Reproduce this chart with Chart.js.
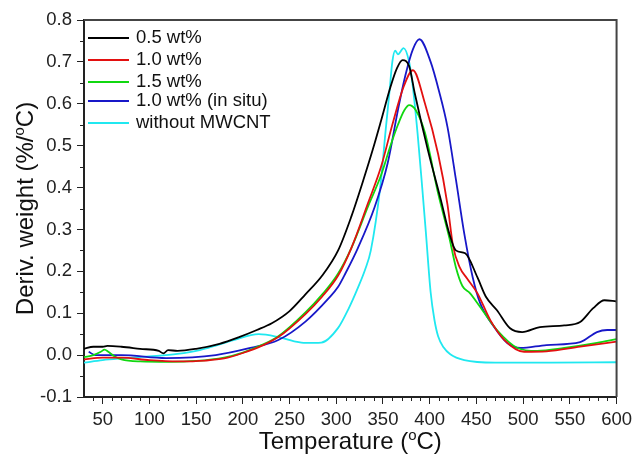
<!DOCTYPE html>
<html>
<head>
<meta charset="utf-8">
<script src="https://cdn.jsdelivr.net/npm/chart.js@4"></script>
<style>
  html, body { margin: 0; padding: 0; background: #fff; }
  #wrap { width: 637px; height: 455px; position: relative; }
</style>
</head>
<body>
<div id="wrap"><canvas id="chart"></canvas></div>
<script>
/* DTG curves: derivative weight vs temperature */

const labels = ['0.5 wt%', '1.0 wt%', '1.5 wt%', '1.0 wt% (in situ)', 'without MWCNT'];
const colors = ['#000000', '#e31010', '#10d810', '#1818c8', '#20e8f0'];

const blackT = [30, 40, 50, 55, 70, 90, 110, 115, 120, 130, 150, 175, 196, 215, 231, 250, 267, 285, 302, 316, 329, 339, 348, 358, 365, 371, 378, 384, 398, 412, 421, 428, 438, 451, 460, 472, 486, 499, 518, 544, 561, 575, 587, 600];
const blackY = [0.015, 0.02, 0.02, 0.022, 0.02, 0.015, 0.01, 0.004, 0.012, 0.01, 0.015, 0.027, 0.043, 0.06, 0.076, 0.105, 0.145, 0.19, 0.25, 0.33, 0.418, 0.49, 0.56, 0.64, 0.685, 0.704, 0.69, 0.625, 0.49, 0.37, 0.29, 0.25, 0.243, 0.186, 0.14, 0.107, 0.064, 0.055, 0.067, 0.071, 0.079, 0.112, 0.131, 0.128];

const redT = [30, 50, 70, 100, 130, 160, 180, 200, 220, 238, 267, 285, 302, 316, 334, 348, 360, 372, 382, 395, 409, 419, 425, 432, 440, 451, 465, 480, 501, 525, 561, 600];
const redY = [-0.01, -0.006, -0.006, -0.012, -0.015, -0.013, -0.008, 0.005, 0.022, 0.043, 0.098, 0.14, 0.19, 0.255, 0.363, 0.45, 0.55, 0.64, 0.68, 0.6, 0.48, 0.36, 0.26, 0.21, 0.183, 0.148, 0.083, 0.036, 0.008, 0.009, 0.02, 0.032];

const greenT = [30, 40, 48, 52, 56, 62, 70, 90, 120, 150, 180, 200, 220, 238, 267, 285, 302, 316, 334, 348, 358, 366, 373, 378, 385, 395, 409, 421, 428, 435, 443, 454, 472, 494, 515, 544, 579, 600];
const greenY = [-0.005, 0.0, 0.008, 0.013, 0.008, -0.002, -0.01, -0.015, -0.016, -0.014, -0.006, 0.006, 0.024, 0.045, 0.102, 0.145, 0.195, 0.255, 0.355, 0.43, 0.5, 0.55, 0.585, 0.597, 0.585, 0.53, 0.386, 0.28, 0.21, 0.165, 0.148, 0.115, 0.06, 0.017, 0.01, 0.017, 0.029, 0.038];

const blueT = [35, 42, 50, 70, 118, 171, 208, 238, 267, 292, 302, 310, 323, 341, 355, 366, 374, 382, 389, 401, 410, 419, 428, 437, 446, 454, 469, 483, 497, 525, 561, 579, 590, 600];
const blueY = [0.008, 0.0, 0.0, 0.0, -0.007, 0.0, 0.017, 0.036, 0.08, 0.136, 0.163, 0.196, 0.255, 0.353, 0.458, 0.585, 0.668, 0.73, 0.754, 0.7, 0.63, 0.545, 0.42, 0.29, 0.186, 0.124, 0.067, 0.029, 0.017, 0.024, 0.031, 0.055, 0.06, 0.06];

const cyanT = [30, 50, 70, 100, 130, 154, 170, 190, 217, 238, 255, 267, 284, 302, 313, 323, 331, 337, 347, 353, 357, 360, 363, 366, 372, 378, 382, 387, 392, 396, 401, 405, 409, 415, 422, 437, 470, 530, 600];
const cyanY = [-0.018, -0.012, -0.008, -0.003, 0.003, 0.012, 0.022, 0.036, 0.05, 0.043, 0.033, 0.029, 0.03, 0.065, 0.11, 0.16, 0.205, 0.25, 0.4, 0.54, 0.63, 0.7, 0.727, 0.718, 0.733, 0.7, 0.64, 0.53, 0.4, 0.29, 0.15, 0.085, 0.045, 0.018, 0.002, -0.012, -0.018, -0.018, -0.017];

const xTicks = [50, 100, 150, 200, 250, 300, 350, 400, 450, 500, 550, 600];
const yTicks = [-0.1, 0.0, 0.1, 0.2, 0.3, 0.4, 0.5, 0.6, 0.7, 0.8];

const seriesT = [blackT, redT, greenT, blueT, cyanT];
const seriesY = [blackY, redY, greenY, blueY, cyanY];

function toPoints(ts, ys) {
  return ts.map((t, i) => ({ x: t, y: ys[i] }));
}

const FONT = '"Liberation Sans", Arial, sans-serif';

// minor ticks, frame, legend, axis titles with superscript
const decor = {
  id: 'decor',
  afterDraw(chart) {
    const ctx = chart.ctx;
    const a = chart.chartArea;
    const xs = chart.scales.x;
    const ys = chart.scales.y;
    ctx.save();

    // top and right frame
    ctx.strokeStyle = '#444';
    ctx.lineWidth = 2;
    ctx.beginPath();
    ctx.moveTo(a.left, a.top);
    ctx.lineTo(a.right, a.top);
    ctx.lineTo(a.right, a.bottom);
    ctx.stroke();

    // minor ticks
    ctx.strokeStyle = '#222';
    ctx.lineWidth = 1;
    ctx.beginPath();
    for (let v = 40; v <= 600; v += 10) {
      if (v % 50 === 0) continue;
      const px = Math.round(xs.getPixelForValue(v)) + 0.5;
      ctx.moveTo(px, a.bottom);
      ctx.lineTo(px, a.bottom + 4);
    }
    for (let k = -1; k < 8; k++) {
      const v = k / 10 + 0.05;
      const py = Math.round(ys.getPixelForValue(v)) + 0.5;
      ctx.moveTo(a.left, py);
      ctx.lineTo(a.left - 4, py);
    }
    ctx.stroke();

    // legend
    const rows = [38, 60, 82, 101, 123];
    ctx.font = '18.5px ' + FONT;
    ctx.textBaseline = 'middle';
    chart.data.datasets.forEach((ds, i) => {
      ctx.strokeStyle = ds.borderColor;
      ctx.lineWidth = 2;
      ctx.beginPath();
      ctx.moveTo(88, rows[i]);
      ctx.lineTo(129, rows[i]);
      ctx.stroke();
      ctx.fillStyle = '#111';
      ctx.fillText(ds.label, 136, rows[i]);
    });

    // axis titles with superscript o
    function supTitle(pre, post, size) {
      ctx.font = size + 'px ' + FONT;
      const w1 = ctx.measureText(pre).width;
      const w3 = ctx.measureText(post).width;
      ctx.font = Math.round(size * 0.62) + 'px ' + FONT;
      const w2 = ctx.measureText('o').width;
      const total = w1 + w2 + w3;
      let x = -total / 2;
      ctx.font = size + 'px ' + FONT;
      ctx.fillText(pre, x, 0);
      x += w1;
      ctx.font = Math.round(size * 0.62) + 'px ' + FONT;
      ctx.fillText('o', x, -size * 0.38);
      x += w2;
      ctx.font = size + 'px ' + FONT;
      ctx.fillText(post, x, 0);
    }
    ctx.fillStyle = '#111';
    ctx.textAlign = 'left';
    ctx.textBaseline = 'alphabetic';
    ctx.save();
    ctx.translate((a.left + a.right) / 2, 449);
    supTitle('Temperature (', 'C)', 24);
    ctx.restore();
    ctx.save();
    ctx.translate(33, (a.top + a.bottom) / 2);
    ctx.rotate(-Math.PI / 2);
    supTitle('Deriv. weight (%/', 'C)', 24);
    ctx.restore();

    ctx.restore();
  }
};

function init() {
  const datasets = labels.map((lab, i) => ({
    label: lab,
    data: toPoints(seriesT[i], seriesY[i]),
    borderColor: colors[i],
    backgroundColor: colors[i],
    borderWidth: 1.8,
    pointRadius: 0,
    cubicInterpolationMode: 'monotone',
    fill: false,
  }));

  new Chart(document.getElementById('chart'), {
    type: 'line',
    data: { datasets },
    plugins: [decor],
    options: {
      responsive: true,
      maintainAspectRatio: false,
      animation: false,
      layout: { padding: { top: 20, right: 18, left: 0, bottom: 0 } },
      scales: {
        x: {
          type: 'linear',
          min: 30,
          max: 600,
          afterFit: (s) => { s.height = 58; },
          afterBuildTicks: (s) => { s.ticks = xTicks.map((v) => ({ value: v })); },
          border: { display: true, color: '#222', width: 2 },
          grid: { drawOnChartArea: false, tickLength: 7, tickColor: '#222', tickWidth: 1 },
          ticks: {
            color: '#222',
            padding: 5,
            maxRotation: 0,
            font: { family: FONT, size: 18.5 },
          },
        },
        y: {
          min: -0.1,
          max: 0.8,
          afterFit: (s) => { s.width = 84; },
          afterBuildTicks: (s) => { s.ticks = yTicks.map((v) => ({ value: v })); },
          border: { display: true, color: '#222', width: 2 },
          grid: { drawOnChartArea: false, tickLength: 7, tickColor: '#222', tickWidth: 1 },
          ticks: {
            color: '#222',
            padding: 5,
            font: { family: FONT, size: 18.5 },
            callback: (v) => Number(v).toFixed(1),
          },
        },
      },
      plugins: {
        legend: { display: false },
        tooltip: { enabled: false },
      },
    },
  });
}

document.addEventListener('DOMContentLoaded', init);
</script>
</body>
</html>
